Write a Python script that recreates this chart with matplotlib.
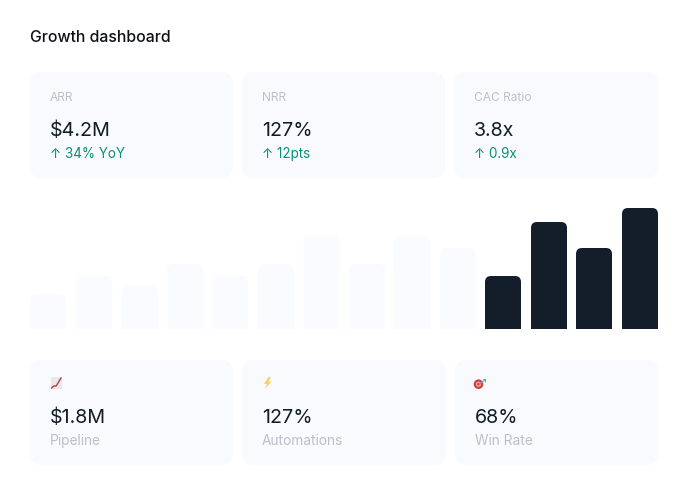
import matplotlib
matplotlib.use('Agg')
import matplotlib.pyplot as plt
from matplotlib.patches import FancyBboxPatch, Polygon, Circle

plt.rcParams['font.family'] = ['Inter', 'DejaVu Sans']

title = 'Growth dashboard'

top_labels = ['ARR', 'NRR', 'CAC Ratio']
top_values = ['$4.2M', '127%', '3.8x']
top_deltas = ['↑ 34% YoY', '↑ 12pts', '↑ 0.9x']

bottom_values = ['$1.8M', '127%', '68%']
bottom_labels = ['Pipeline', 'Automations', 'Win Rate']

bar_heights = [35, 53, 43, 65, 53, 65, 93, 65, 93, 81, 53, 107, 81, 121]
bar_dark = [False] * 10 + [True] * 4

card_col = '#F9FAFE'
faint_bar = '#FAFBFE'
dark = '#111C27'
grey = '#BCC0CB'
green = '#0A9078'

W, H = 688, 495
fig = plt.figure(figsize=(W / 100, H / 100), dpi=100)
ax = fig.add_axes([0, 0, 1, 1])
ax.set_xlim(0, W)
ax.set_ylim(H, 0)
ax.axis('off')


def card(x0, x1, y0, y1):
    ax.add_patch(FancyBboxPatch((x0 + 12, y0 + 12), x1 - x0 - 24, y1 - y0 - 24,
                                boxstyle='round,pad=12,rounding_size=12',
                                fc=card_col, ec='none'))


ax.text(30, 42, title, fontsize=11.4, color='#0D1117', va='baseline', fontweight='medium')

# top row
top_x = [(30, 233), (242, 445), (454, 658)]
for i, (x0, x1) in enumerate(top_x):
    card(x0, x1, 72, 178)
    ax.text(x0 + 20, 101, top_labels[i], fontsize=8.6, color=grey, va='baseline')
    ax.text(x0 + 20, 136, top_values[i], fontsize=14.2, color=dark, va='baseline')
    ax.text(x0 + 20, 158, top_deltas[i], fontsize=9.7, color=green, va='baseline')

# bottom row
bottom_x = [(30, 233), (242, 446), (455, 658)]
for i, (x0, x1) in enumerate(bottom_x):
    card(x0, x1, 360, 465)
    ax.text(x0 + 20, 423, bottom_values[i], fontsize=14.2, color=dark, va='baseline')
    ax.text(x0 + 20, 445, bottom_labels[i], fontsize=9.9, color=grey, va='baseline')

# emoji icons, no colour emoji font here so draw them small
ax.add_patch(Polygon([(51, 377), (62, 377), (62, 389), (51, 389)], fc='#E6E8EC', ec='none'))
ax.plot([51.5, 54, 56, 58, 61], [388, 386, 386, 383, 378], color='#C23B45', lw=1)
ax.add_patch(Polygon([(268.5, 377), (264, 384), (267, 384), (265, 389), (271.5, 381.5),
                      (268.5, 381.5), (271, 377)], fc='#F9D06A', ec='none'))
ax.add_patch(Circle((478.5, 384.2), 4.8, fc='#D23F3F', ec='none'))
ax.add_patch(Circle((478.5, 384.2), 2.6, fc='#F0A8A4', ec='none'))
ax.add_patch(Circle((478.5, 384.2), 1.2, fc='#C93535', ec='none'))
ax.plot([479.5, 484], [384, 380.5], color='#6FA9AE', lw=0.9)
ax.add_patch(Polygon([(482.5, 379), (485.5, 379), (485.5, 382.5)], fc='#52B3C0', ec='none'))

# bars
bar_ax = fig.add_axes([30 / W, 1 - 329 / H, (658 - 30) / W, 130 / H])
bar_ax.set_ylim(0, 130)
bar_ax.axis('off')
pos = [18, 64, 110, 155, 200, 246, 291, 337, 382, 428, 473, 519, 564, 610]
bars = bar_ax.bar(pos, bar_heights, width=36)
bar_ax.set_xlim(0, 628)
for b, h, d, xc in zip(bars, bar_heights, bar_dark, pos):
    b.set_visible(False)
    # round only the top: the lower corners get cut off by the axes
    bar_ax.add_patch(FancyBboxPatch((xc - 18 + 6, -10), 24, h + 10 - 6,
                                    boxstyle='round,pad=6,rounding_size=6',
                                    fc='#131E2A' if d else faint_bar, ec='none'))

fig.savefig('out.png', dpi=100)
